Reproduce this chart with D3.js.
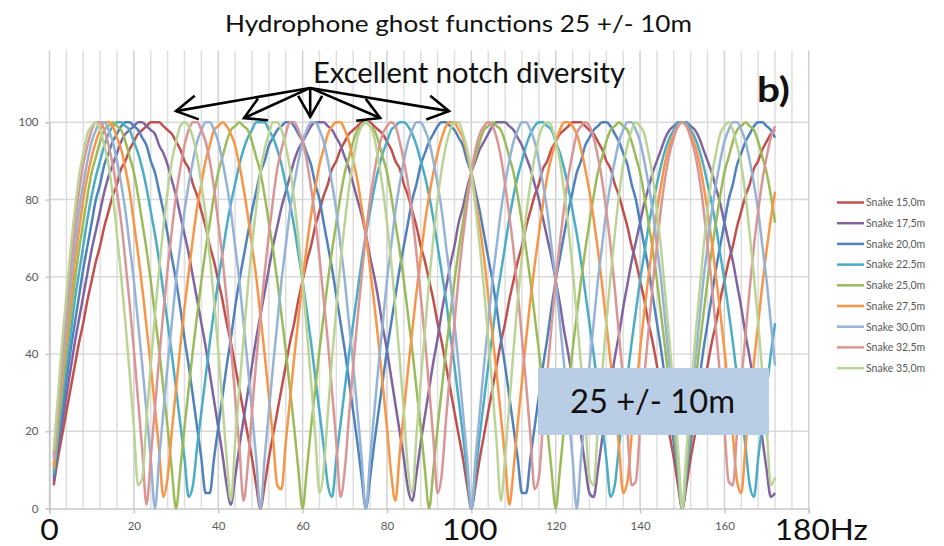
<!DOCTYPE html>
<html><head><meta charset="utf-8">
<script src="https://cdn.jsdelivr.net/npm/d3@7/dist/d3.min.js"></script>
<style>body{margin:0;background:#fff}svg{display:block}</style>
</head><body>
<svg id="chart" width="944" height="546"></svg>
<script>
// ---------- data ----------
const seriesNames = ["Snake 15,0m","Snake 17,5m","Snake 20,0m","Snake 22,5m","Snake 25,0m","Snake 27,5m","Snake 30,0m","Snake 32,5m","Snake 35,0m"];
const seriesColors = ["#C0504D","#8064A2","#4F81BD","#4BACC6","#9BBB59","#F79646","#95B3D7","#D99694","#BBD496"];
const firstFrequency = 1; // Hz, one sample per Hz
const xTicks = [0,20,40,60,80,100,120,140,160,180];
const xTickLabels = [20,40,60,80,120,140,160];
const yTicks = [0,20,40,60,80,100];

const snake15 = [
6,13,19,25,31,37,43,48,54,59,64,68,73,77,81,84,88,90,93,95,97,98,99,100,100,100,99,98,97,95,93,90,88,84,81,77,73,68,64,59,54,48,43,37,31,25,19,13,6,0,
6,13,19,25,31,37,43,48,54,59,64,68,73,77,81,84,88,90,93,95,97,98,99,100,100,100,99,98,97,95,93,90,88,84,81,77,73,68,64,59,54,48,43,37,31,25,19,13,6,0,
6,13,19,25,31,37,43,48,54,59,64,68,73,77,81,84,88,90,93,95,97,98,99,100,100,100,99,98,97,95,93,90,88,84,81,77,73,68,64,59,54,48,43,37,31,25,19,13,6,0,
6,13,19,25,31,37,43,48,54,59,64,68,73,77,81,84,88,90,93,95,97,98];
const snake17_5 = [
7,15,22,29,36,43,49,55,61,67,72,77,82,86,89,92,95,97,98,99,
100,100,99,98,97,94,92,89,85,81,76,71,66,60,54,48,42,35,28,21,
14,6,1,8,16,23,30,37,44,50,56,62,68,73,78,82,86,90,93,95,
97,99,100,100,100,99,98,96,94,91,88,84,80,76,71,65,60,54,47,41,
34,27,20,13,5,2,9,17,24,31,38,44,51,57,63,68,74,78,83,87,
90,93,95,97,99,100,100,100,99,98,96,94,91,88,84,80,75,70,65,59,
53,46,40,33,26,19,11,4,3,10,18,25,32,39,45,52,58,64,69,74,
79,83,87,90,93,96,98,99,100,100,100,99,98,96,93,90,87,83,79,74,
69,64,58,52,45,39,32,25,18,10,3,4];
const snake20 = [
8,17,25,33,41,48,55,62,68,74,80,84,89,92,95,97,99,100,100,99,98,96,94,90,87,82,77,71,65,59,52,44,37,29,21,13,4,4,13,21,29,37,44,52,59,65,71,77,82,87,90,94,96,98,99,100,100,99,97,95,92,89,84,80,74,68,62,55,48,41,33,25,17,8,0,
8,17,25,33,41,48,55,62,68,74,80,84,89,92,95,97,99,100,100,99,98,96,94,90,87,82,77,71,65,59,52,44,37,29,21,13,4,4,13,21,29,37,44,52,59,65,71,77,82,87,90,94,96,98,99,100,100,99,97,95,92,89,84,80,74,68,62,55,48,41,33,25,17,8,0,
8,17,25,33,41,48,55,62,68,74,80,84,89,92,95,97,99,100,100,99,98,96];
const snake22_5 = [
9,19,28,37,45,54,61,68,75,81,86,90,94,97,99,100,100,99,98,95,92,88,83,77,71,64,56,48,40,31,22,13,3,6,16,25,34,43,51,59,66,73,79,84,89,93,96,98,100,100,
100,98,96,93,89,84,79,73,66,59,51,43,34,25,16,6,3,13,22,31,40,48,56,64,71,77,83,88,92,95,98,99,100,100,99,97,94,90,86,81,75,68,61,54,45,37,28,19,9,0,
9,19,28,37,45,54,61,68,75,81,86,90,94,97,99,100,100,99,98,95,92,88,83,77,71,64,56,48,40,31,22,13,3,6,16,25,34,43,51,59,66,73,79,84,89,93,96,98,100,100,
100,98,96,93,89,84,79,73,66,59,51,43,34,25,16,6,3,13,22,31,40,48];
const snake25 = [
10,21,31,41,50,59,67,74,81,87,91,95,98,99,100,99,98,95,91,87,81,74,67,59,50,41,31,21,10,0,
10,21,31,41,50,59,67,74,81,87,91,95,98,99,100,99,98,95,91,87,81,74,67,59,50,41,31,21,10,0,
10,21,31,41,50,59,67,74,81,87,91,95,98,99,100,99,98,95,91,87,81,74,67,59,50,41,31,21,10,0,
10,21,31,41,50,59,67,74,81,87,91,95,98,99,100,99,98,95,91,87,81,74,67,59,50,41,31,21,10,0,
10,21,31,41,50,59,67,74,81,87,91,95,98,99,100,99,98,95,91,87,81,74,67,59,50,41,31,21,10,0,
10,21,31,41,50,59,67,74,81,87,91,95,98,99,100,99,98,95,91,87,81,74];
const snake27_5 = [
11,23,34,44,54,64,72,80,86,91,95,98,100,100,99,96,93,88,82,74,
66,57,47,37,26,15,3,8,20,31,42,52,61,70,78,84,90,94,98,99,
100,99,97,94,89,83,76,68,60,50,40,29,18,6,5,17,28,39,49,59,
68,76,83,89,93,97,99,100,100,98,95,90,85,78,71,62,53,43,32,21,
9,2,14,25,36,46,56,65,74,81,87,92,96,99,100,100,98,96,92,87,
80,73,65,55,45,35,24,13,1,10,22,33,44,54,63,71,79,86,91,95,
98,100,100,99,97,93,88,82,75,67,58,48,38,27,16,4,7,19,30,41,
51,60,69,77,84,90,94,97,99,100,99,97,94,90,84,77,69,60,51,41,
30,19,7,4,16,27,38,48,58,67,75,82];
const snake30 = [
13,25,37,48,59,68,77,84,90,95,98,100,100,98,95,90,84,77,68,59,48,37,25,13,0,
13,25,37,48,59,68,77,84,90,95,98,100,100,98,95,90,84,77,68,59,48,37,25,13,0,
13,25,37,48,59,68,77,84,90,95,98,100,100,98,95,90,84,77,68,59,48,37,25,13,0,
13,25,37,48,59,68,77,84,90,95,98,100,100,98,95,90,84,77,68,59,48,37,25,13,0,
13,25,37,48,59,68,77,84,90,95,98,100,100,98,95,90,84,77,68,59,48,37,25,13,0,
13,25,37,48,59,68,77,84,90,95,98,100,100,98,95,90,84,77,68,59,48,37,25,13,0,
13,25,37,48,59,68,77,84,90,95,98,100,100,98,95,90,84,77,68,59,48,37];
const snake32_5 = [
14,27,40,52,63,73,82,89,94,98,100,100,98,94,89,82,74,64,53,41,
28,15,1,13,26,39,51,62,72,81,88,94,98,100,100,98,95,90,83,74,
65,54,42,29,16,2,11,25,38,50,61,71,80,88,93,97,100,100,98,95,
90,83,75,65,54,43,30,17,3,10,24,37,49,60,71,80,87,93,97,99,
100,99,95,90,84,76,66,55,44,31,18,4,9,23,36,48,60,70,79,87,
93,97,99,100,99,96,91,84,76,67,56,44,32,19,5,8,22,35,47,59,
69,78,86,92,97,99,100,99,96,91,85,77,68,57,45,33,20,6,7,21,
34,46,58,68,78,86,92,96,99,100,99,96,92,86,78,68,58,46,34,21,
7,6,20,33,45,57,68,77,85,91,96,99];
const snake35 = [
15,29,43,55,67,77,86,92,97,99,100,98,94,89,81,71,60,48,35,21,
6,8,23,37,50,62,73,82,90,95,99,100,99,96,91,84,76,65,54,41,
27,13,2,17,31,44,57,68,78,87,93,97,100,100,98,94,88,80,70,59,
46,33,19,4,10,25,39,52,64,74,83,90,96,99,100,99,96,90,83,74,
64,52,39,25,10,4,19,33,46,59,70,80,88,94,98,100,100,97,93,87,
78,68,57,44,31,17,2,13,27,41,54,65,76,84,91,96,99,100,99,95,
90,82,73,62,50,37,23,8,6,21,35,48,60,71,81,89,94,98,100,99,
97,92,86,77,67,55,43,29,15,0,15,29,43,55,67,77,86,92,97,99,
100,98,94,89,81,71,60,48,35,21,6,8];

const seriesValues = [snake15,snake17_5,snake20,snake22_5,snake25,snake27_5,snake30,snake32_5,snake35];

// ---------- drawing ----------
const FONT = "Lato, 'Open Sans', sans-serif";
const svg = d3.select("#chart");
const x = d3.scaleLinear().domain([0,180]).range([49.5,808.8]);
const y = d3.scaleLinear().domain([0,100]).range([508.5,122.3]);
const plotTop = 50.5;

// gridlines
const grid = svg.append("g");
grid.selectAll("line.v").data(d3.range(0,181,4)).join("line")
  .attr("x1",d=>x(d)).attr("x2",d=>x(d)).attr("y1",plotTop).attr("y2",y(0))
  .attr("stroke",d=>d%20===0?"#d0d0d0":"#dedede").attr("stroke-width",1.5);
grid.selectAll("line.h").data(yTicks.filter(d=>d>0)).join("line")
  .attr("x1",x(0)).attr("x2",x(180)).attr("y1",d=>y(d)).attr("y2",d=>y(d))
  .attr("stroke","#d9d9d9").attr("stroke-width",1.5);

// axes
const xAxis = svg.append("g").attr("transform",`translate(0,${y(0)})`)
  .call(d3.axisBottom(x).tickValues(xTicks).tickSize(5).tickPadding(8)
    .tickFormat(d=>xTickLabels.includes(d)?d:""));
const yAxis = svg.append("g").attr("transform",`translate(${x(0)},0)`)
  .call(d3.axisLeft(y).tickValues(yTicks).tickSize(4).tickPadding(7));
[xAxis,yAxis].forEach(a=>{
  a.select(".domain").attr("stroke","#c8c8c8").attr("stroke-width",1.5);
  a.selectAll(".tick line").attr("stroke","#c8c8c8").attr("stroke-width",1.5);
  a.selectAll("text").attr("fill","#595959").style("font-family",FONT).style("font-size","11.5px");
});

// lines
const line = d3.line().x(d=>x(d.f)).y(d=>y(d.v)).curve(d3.curveMonotoneX);
svg.append("g").selectAll("path").data(seriesValues).join("path")
  .attr("d",vals=>line(vals.map((v,i)=>({f:firstFrequency+i,v}))))
  .attr("fill","none").attr("stroke",(d,i)=>seriesColors[i])
  .attr("stroke-width",2.5).attr("stroke-linejoin","round");

// legend
const leg = svg.append("g");
seriesNames.forEach((name,i)=>{
  const yy = 202.5 + i*20.7;
  leg.append("line").attr("x1",837).attr("x2",864).attr("y1",yy).attr("y2",yy)
    .attr("stroke",seriesColors[i]).attr("stroke-width",2.5);
  leg.append("text").attr("x",866).attr("y",yy+3.8).text(name)
    .attr("fill","#595959").style("font-family",FONT).style("font-size","10.5px");
});

// title and annotations
svg.append("text").attr("x",458.5).attr("y",31.5).attr("text-anchor","middle")
  .attr("textLength",467).attr("lengthAdjust","spacingAndGlyphs")
  .style("font-family",FONT).style("font-size","23px").attr("fill","#111")
  .text("Hydrophone ghost functions 25 +/- 10m");
svg.append("text").attr("x",313).attr("y",83)
  .attr("textLength",312).attr("lengthAdjust","spacingAndGlyphs")
  .style("font-family",FONT).style("font-size","28px").attr("fill","#111")
  .text("Excellent notch diversity");
svg.append("text").attr("x",757).attr("y",101.5)
  .attr("textLength",33).attr("lengthAdjust","spacingAndGlyphs")
  .style("font-family",FONT).style("font-size","35px").style("font-weight","bold").attr("fill","#111")
  .text("b)");

// arrows (data coordinates: Hz, %)
const defs = svg.append("defs");
defs.append("marker").attr("id","chev").attr("markerUnits","userSpaceOnUse")
  .attr("viewBox","-26 -16 30 32").attr("refX",0).attr("refY",0)
  .attr("markerWidth",30).attr("markerHeight",32).attr("orient","auto")
  .append("path").attr("d","M-21,-12 L0,0 L-21,12").attr("fill","none")
  .attr("stroke","#000").attr("stroke-width",2.6).attr("stroke-linejoin","miter");
const arrowFrom = [61.8,108.9];
const arrowTo = [[30,102.9],[46.1,101.1],[61.8,101.4],[78.4,101.1],[94.7,102.9]];
svg.append("g").selectAll("line").data(arrowTo).join("line")
  .attr("x1",x(arrowFrom[0])).attr("y1",y(arrowFrom[1]))
  .attr("x2",d=>x(d[0])).attr("y2",d=>y(d[1]))
  .attr("stroke","#000").attr("stroke-width",2.6).attr("marker-end","url(#chev)");

// box
svg.append("rect").attr("x",538).attr("y",368).attr("width",231).attr("height",67).attr("fill","#B9CDE5");
svg.append("text").attr("x",652.5).attr("y",413).attr("text-anchor","middle")
  .attr("textLength",165).attr("lengthAdjust","spacingAndGlyphs")
  .style("font-family",FONT).style("font-size","32px").attr("fill","#111")
  .text("25 +/- 10m");

// big axis labels
const big = (t,xx,anchor,len)=>svg.append("text").attr("x",xx).attr("y",539.5).attr("text-anchor",anchor)
  .attr("textLength",len).attr("lengthAdjust","spacingAndGlyphs")
  .style("font-family",FONT).style("font-size","29px").attr("fill","#111").text(t);
big("0",x(0),"middle",18.5);
big("100",x(100)-1.5,"middle",55.6);
big("180Hz",x(180)-34,"start",93);
</script>
</body></html>
